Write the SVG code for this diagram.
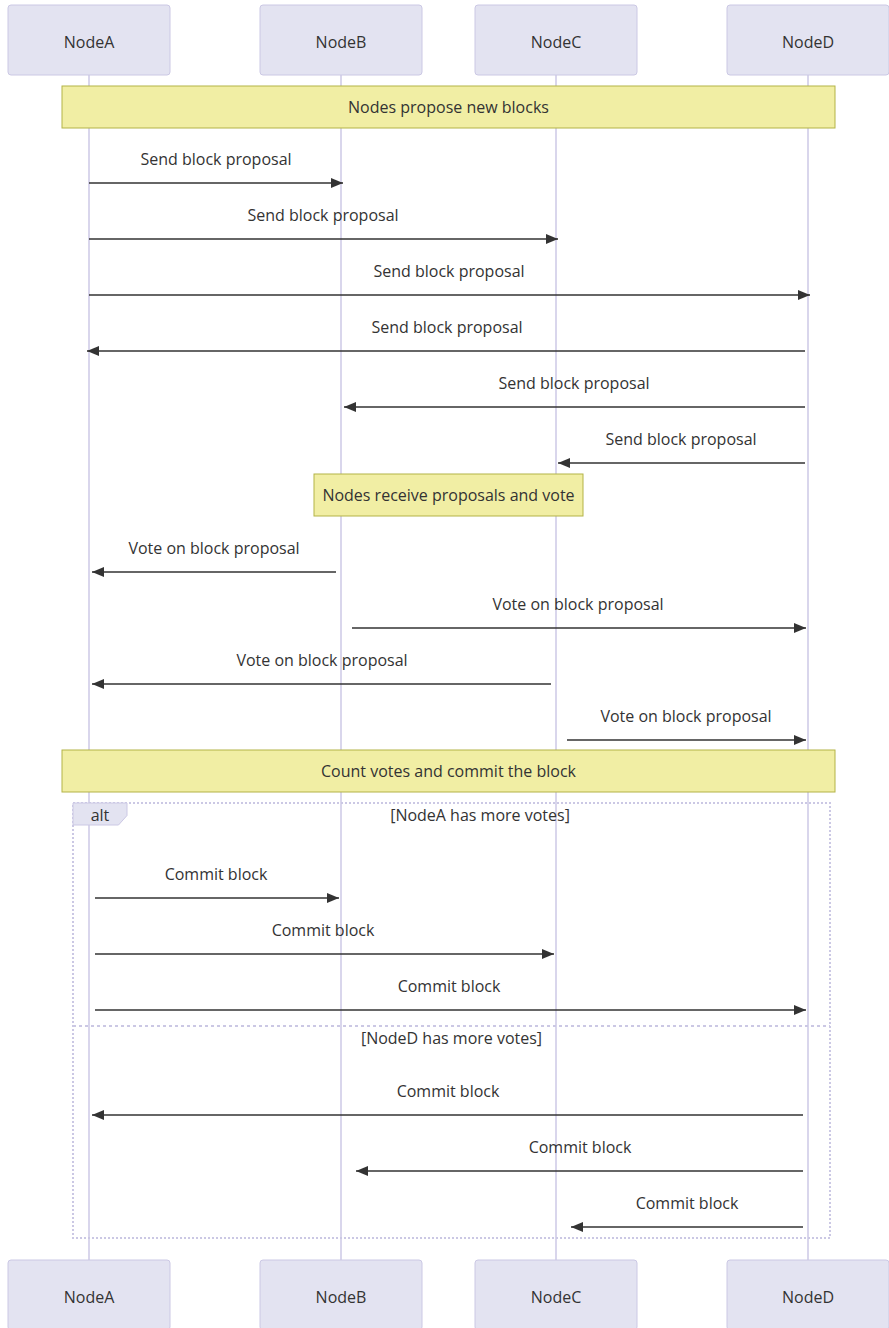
<svg xmlns="http://www.w3.org/2000/svg" width="889" height="1328" viewBox="0 0 889 1328">
  <style>
    text { font-family: "Open Sans", "Liberation Sans", sans-serif; font-size: 16px; fill: #333333; }
    .actor rect { fill: #e3e3f1; stroke: #cbc8e4; stroke-width: 1; }
    .actor text { text-anchor: middle; dominant-baseline: central; }
    .lifeline { stroke: #ccc8e6; stroke-width: 1.5; }
    .note rect { fill: #f1eea4; stroke: #b3b347; stroke-width: 1; }
    .note text { text-anchor: middle; dominant-baseline: central; }
    .msg { stroke: #333333; stroke-width: 1.5; fill: none; marker-end: url(#arrow); }
    .msgText { text-anchor: middle; dominant-baseline: central; }
    .loopBox { fill: none; stroke: #cbc8e4; stroke-width: 2; stroke-dasharray: 2 2; }
    .loopSep { stroke: #cbc8e4; stroke-width: 2; stroke-dasharray: 3 3; }
    .labelBox { fill: #e3e3f1; stroke: #cbc8e4; stroke-width: 1; }
    .loopText { text-anchor: middle; dominant-baseline: central; }
  </style>
  <defs>
    <marker id="arrow" viewBox="0 0 12 10" refX="12" refY="5" markerWidth="12" markerHeight="10" markerUnits="userSpaceOnUse" orient="auto">
      <path d="M0,0 L12,5 L0,10 z" fill="#333333"/>
    </marker>
  </defs>

  <!-- lifelines -->
  <g id="lifelines">
    <line class="lifeline" x1="89" y1="75" x2="89" y2="1260"/>
    <line class="lifeline" x1="341" y1="75" x2="341" y2="1260"/>
    <line class="lifeline" x1="556" y1="75" x2="556" y2="1260"/>
    <line class="lifeline" x1="808" y1="75" x2="808" y2="1260"/>
  </g>

  <!-- participants, top -->
  <g id="NodeA-top" class="actor"><rect x="8" y="5" width="162" height="70" rx="3"/><text x="89" y="42">NodeA</text></g>
  <g id="NodeB-top" class="actor"><rect x="260" y="5" width="162" height="70" rx="3"/><text x="341" y="42">NodeB</text></g>
  <g id="NodeC-top" class="actor"><rect x="475" y="5" width="162" height="70" rx="3"/><text x="556" y="42">NodeC</text></g>
  <g id="NodeD-top" class="actor"><rect x="727" y="5" width="162" height="70" rx="3"/><text x="808" y="42">NodeD</text></g>

  <!-- notes -->
  <g id="note-propose" class="note"><rect x="62" y="86" width="773" height="42"/><text x="448.5" y="107">Nodes propose new blocks</text></g>
  <g id="note-receive" class="note"><rect x="314" y="474" width="269" height="42"/><text x="448.5" y="495">Nodes receive proposals and vote</text></g>
  <g id="note-count" class="note"><rect x="62" y="750" width="773" height="42"/><text x="448.5" y="771">Count votes and commit the block</text></g>

  <!-- alt fragment -->
  <g id="alt-fragment">
    <rect class="loopBox" x="73" y="803" width="757" height="435"/>
    <polygon class="labelBox" points="73,803 127,803 127,815.5 118.5,825 73,825"/>
    <text class="loopText" x="100" y="815">alt</text>
    <text class="loopText" x="480" y="815">[NodeA has more votes]</text>
    <line class="loopSep" x1="73" y1="1026" x2="830" y2="1026"/>
    <text class="loopText" x="451.5" y="1038">[NodeD has more votes]</text>
  </g>

  <!-- messages -->
  <g id="connectors">
    <line class="msg" x1="89" y1="183" x2="343" y2="183"/>
    <text class="msgText" x="216" y="159">Send block proposal</text>
    <line class="msg" x1="89" y1="239" x2="558" y2="239"/>
    <text class="msgText" x="323" y="215">Send block proposal</text>
    <line class="msg" x1="89" y1="295" x2="810" y2="295"/>
    <text class="msgText" x="449" y="271">Send block proposal</text>
    <line class="msg" x1="805" y1="351" x2="87" y2="351"/>
    <text class="msgText" x="447" y="327">Send block proposal</text>
    <line class="msg" x1="805" y1="407" x2="344" y2="407"/>
    <text class="msgText" x="574" y="383">Send block proposal</text>
    <line class="msg" x1="805" y1="463" x2="558" y2="463"/>
    <text class="msgText" x="681" y="439">Send block proposal</text>

    <line class="msg" x1="336" y1="572" x2="92" y2="572"/>
    <text class="msgText" x="214" y="548">Vote on block proposal</text>
    <line class="msg" x1="352" y1="628" x2="806" y2="628"/>
    <text class="msgText" x="578" y="604">Vote on block proposal</text>
    <line class="msg" x1="551" y1="684" x2="92" y2="684"/>
    <text class="msgText" x="322" y="660">Vote on block proposal</text>
    <line class="msg" x1="567" y1="740" x2="806" y2="740"/>
    <text class="msgText" x="686" y="716">Vote on block proposal</text>

    <line class="msg" x1="95" y1="898" x2="339" y2="898"/>
    <text class="msgText" x="216" y="874">Commit block</text>
    <line class="msg" x1="95" y1="954" x2="554" y2="954"/>
    <text class="msgText" x="323" y="930">Commit block</text>
    <line class="msg" x1="95" y1="1010" x2="806" y2="1010"/>
    <text class="msgText" x="449" y="986">Commit block</text>

    <line class="msg" x1="803" y1="1115" x2="92" y2="1115"/>
    <text class="msgText" x="448" y="1091">Commit block</text>
    <line class="msg" x1="803" y1="1171" x2="356" y2="1171"/>
    <text class="msgText" x="580" y="1147">Commit block</text>
    <line class="msg" x1="803" y1="1227" x2="571" y2="1227"/>
    <text class="msgText" x="687" y="1203">Commit block</text>
  </g>

  <!-- participants, bottom -->
  <g id="NodeA-bottom" class="actor"><rect x="8" y="1260" width="162" height="70" rx="3"/><text x="89" y="1297">NodeA</text></g>
  <g id="NodeB-bottom" class="actor"><rect x="260" y="1260" width="162" height="70" rx="3"/><text x="341" y="1297">NodeB</text></g>
  <g id="NodeC-bottom" class="actor"><rect x="475" y="1260" width="162" height="70" rx="3"/><text x="556" y="1297">NodeC</text></g>
  <g id="NodeD-bottom" class="actor"><rect x="727" y="1260" width="162" height="70" rx="3"/><text x="808" y="1297">NodeD</text></g>
</svg>
